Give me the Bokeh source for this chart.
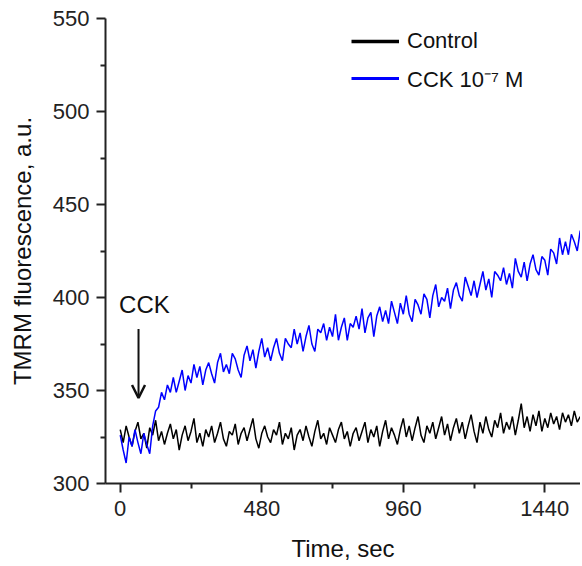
from bokeh.plotting import figure
from bokeh.models import Range1d, FixedTicker, Legend, LegendItem, Arrow, OpenHead, Label, ColumnDataSource
from bokeh.embed import file_html
from bokeh.resources import INLINE

# ---- data ----
time_step = 10
time_sec = list(range(0, 1561, time_step))

control = [
    329, 322, 331, 325, 320, 328, 333, 324, 327, 319,
    330, 326, 334, 323, 328, 321, 327, 332, 324, 329,
    318, 326, 331, 323, 328, 335, 322, 327, 320, 329,
    325, 331, 322, 327, 333, 324, 320, 328, 326, 332,
    321, 327, 330, 323, 329, 335, 324, 319, 327, 331,
    325, 322, 329, 326, 333, 321, 327, 324, 330, 318,
    326, 329, 323, 331, 325, 320, 328, 334, 324, 327,
    321, 330, 326, 322, 329, 333, 324, 328, 320, 327,
    330, 323, 328, 333, 322, 329, 325, 331, 320, 328,
    334, 324, 330, 326, 321, 329, 335, 325, 331, 323,
    330, 336, 326, 322, 331, 327, 333, 324, 330, 336,
    326, 332, 323, 330, 335, 327, 333, 324, 331, 337,
    328, 322, 333, 327, 336, 329, 325, 334, 330, 338,
    327, 333, 329, 336, 326, 334, 343, 330, 336, 328,
    337, 331, 339, 328, 335, 330, 338, 332, 336, 329,
    338, 333, 337, 331, 339, 333, 336,
]

cck = [
    326, 318, 311, 325, 320, 329, 322, 316, 327, 321,
    316, 331, 339, 341, 349, 345, 353, 349, 357, 349,
    355, 361, 350, 358, 354, 364, 357, 363, 353, 361,
    365, 359, 354, 365, 370, 360, 364, 359, 370, 367,
    361, 357, 369, 374, 366, 372, 362, 371, 378, 368,
    373, 366, 373, 378, 370, 366, 378, 375, 373, 383,
    375, 381, 371, 379, 385, 375, 371, 383, 381, 386,
    377, 384, 379, 391, 377, 384, 389, 377, 386, 384,
    390, 383, 394, 381, 389, 392, 379, 390, 395, 387,
    393, 386, 398, 392, 386, 397, 391, 401, 391, 387,
    399, 396, 391, 402, 399, 389, 401, 407, 395, 400,
    398, 405, 394, 404, 408, 401, 398, 411, 406, 401,
    409, 400, 407, 414, 404, 410, 400, 414, 412, 409,
    416, 407, 413, 405, 421, 414, 411, 419, 409, 418,
    423, 415, 412, 422, 420, 412, 426, 424, 418, 432,
    423, 430, 423, 434, 430, 425, 436,
]

x_ticks = [0, 480, 960, 1440]
x_minor = [240, 720, 1200]
y_ticks = [300, 350, 400, 450, 500, 550]
y_minor = [325, 375, 425, 475, 525]

series_names = ["Control", "CCK 10\u207b\u2077 M"]
series_colors = ["#000000", "#0000ff"]

x_label = "Time, sec"
y_label = "TMRM fluorescence, a.u."
stim_label = "CCK"
stim_time = 62
stim_from, stim_to = 383, 346
stim_label_x, stim_label_y = 82, 396

FONT = "Liberation Sans"
NAN = float("nan")

p = figure(width=580, height=564, output_backend="svg", toolbar_location=None,
           x_range=Range1d(-50, 1561), y_range=Range1d(300, 550),
           min_border_left=105, min_border_right=0, min_border_top=18, min_border_bottom=81)
p.outline_line_color = None
p.xgrid.visible = False
p.ygrid.visible = False
p.background_fill_color = "white"
p.border_fill_color = "white"

src = ColumnDataSource(dict(t=time_sec, c=control, k=cck))
p.line("t", "c", source=src, line_color=series_colors[0], line_width=1.5)
p.line("t", "k", source=src, line_color=series_colors[1], line_width=1.5)

# legend swatches (thicker, as in the original); NaN so nothing is drawn in the plot
r_leg_c = p.line([NAN], [NAN], line_color=series_colors[0], line_width=3.5)
r_leg_k = p.line([NAN], [NAN], line_color=series_colors[1], line_width=3)

legend = Legend(items=[LegendItem(label=series_names[0], renderers=[r_leg_c]),
                       LegendItem(label=series_names[1], renderers=[r_leg_k])],
                location=(246, 390), orientation="vertical",
                glyph_width=48, glyph_height=30, label_height=30, label_standoff=8,
                spacing=7, padding=0, margin=0,
                label_text_font=FONT, label_text_font_size="22px", label_text_color="#111111",
                border_line_color=None, background_fill_alpha=0)
p.add_layout(legend)

for ax, ticks, minor in ((p.xaxis[0], x_ticks, x_minor), (p.yaxis[0], y_ticks, y_minor)):
    ax.ticker = FixedTicker(ticks=ticks, minor_ticks=minor)
    ax.axis_line_width = 2
    ax.axis_line_color = "#222222"
    ax.major_tick_line_color = "#222222"
    ax.minor_tick_line_color = "#222222"
    ax.major_tick_line_width = 2
    ax.minor_tick_line_width = 2
    ax.major_tick_out = 9
    ax.major_tick_in = 0
    ax.minor_tick_out = 5
    ax.minor_tick_in = 0
    ax.major_label_text_font = FONT
    ax.major_label_text_font_size = "22px"
    ax.major_label_text_color = "#222222"
    ax.axis_label_text_font = FONT
    ax.axis_label_text_font_size = "24px"
    ax.axis_label_text_font_style = "normal"
    ax.axis_label_text_color = "#111111"

p.xaxis.axis_label = x_label
p.yaxis.axis_label = y_label
p.xaxis.major_label_standoff = 8
p.xaxis.axis_label_standoff = 16
p.yaxis.major_label_standoff = 7
p.yaxis.axis_label_standoff = 14

p.add_layout(Arrow(end=OpenHead(size=13, line_width=2.5, line_color="#111111"),
                   x_start=stim_time, y_start=stim_from, x_end=stim_time, y_end=stim_to,
                   line_width=2, line_color="#111111"))
p.add_layout(Label(x=stim_label_x, y=stim_label_y, text=stim_label, text_align="center",
                   text_baseline="middle", text_font=FONT, text_font_size="24px",
                   text_color="#111111"))

open("out.html", "w").write(file_html(p, INLINE))
